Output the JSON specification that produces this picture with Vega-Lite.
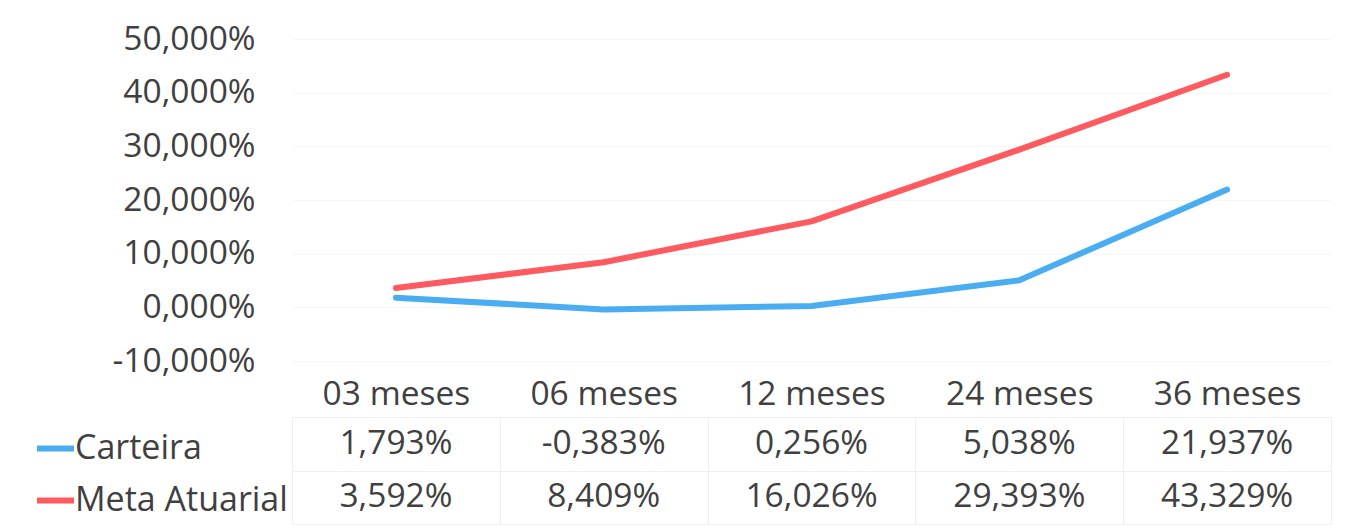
{
  "$schema": "https://vega.github.io/schema/vega-lite/v6.json",
  "background": "white",
  "padding": {"left": 24, "top": 22, "right": 10, "bottom": 0},
  "config": {
    "locale": {"number": {"decimal": ",", "thousands": ".", "grouping": [3], "currency": ["R$ ", ""], "minus": "-"}},
    "view": {"stroke": null},
    "font": "Open Sans",
    "axis": {"labelFont": "Open Sans", "labelFontSize": 33.5, "labelColor": "#404040"}
  },
  "datasets": {
    "d": [
      {"periodo": "03 meses", "serie": "Carteira", "valor": 0.01793},
      {"periodo": "06 meses", "serie": "Carteira", "valor": -0.00383},
      {"periodo": "12 meses", "serie": "Carteira", "valor": 0.00256},
      {"periodo": "24 meses", "serie": "Carteira", "valor": 0.05038},
      {"periodo": "36 meses", "serie": "Carteira", "valor": 0.21937},
      {"periodo": "03 meses", "serie": "Meta Atuarial", "valor": 0.03592},
      {"periodo": "06 meses", "serie": "Meta Atuarial", "valor": 0.08409},
      {"periodo": "12 meses", "serie": "Meta Atuarial", "valor": 0.16026},
      {"periodo": "24 meses", "serie": "Meta Atuarial", "valor": 0.29393},
      {"periodo": "36 meses", "serie": "Meta Atuarial", "valor": 0.43329}
    ]
  },
  "spacing": 6,
  "resolve": {"legend": {"color": "independent", "stroke": "independent"}},
  "vconcat": [
    {
      "width": 1039,
      "height": 322,
      "data": {"name": "d"},
      "mark": {"type": "line", "strokeWidth": 6, "strokeCap": "round", "strokeJoin": "round"},
      "encoding": {
        "x": {"field": "periodo", "type": "nominal", "sort": null,
          "scale": {"type": "point", "padding": 0.5},
          "axis": {"title": null, "orient": "bottom", "ticks": false, "domain": false, "grid": false, "labelAngle": 0, "labelPadding": 33, "labelBaseline": "middle"}},
        "y": {"field": "valor", "type": "quantitative",
          "scale": {"domain": [-0.1, 0.5], "nice": false, "zero": false},
          "axis": {"title": null, "values": [-0.1, 0, 0.1, 0.2, 0.3, 0.4, 0.5], "format": ".3%", "ticks": false, "domain": false, "grid": true, "gridColor": "#f6f6f6", "labelPadding": 37}},
        "color": {"field": "serie", "type": "nominal",
          "scale": {"domain": ["Carteira", "Meta Atuarial"], "range": ["#4aadf2", "#ff5a5f"]},
          "legend": null}
      }
    },
    {
      "width": 1039,
      "height": 107,
      "data": {"name": "d"},
      "mark": {"type": "text", "fontSize": 33.5, "font": "Open Sans", "fill": "#404040", "strokeWidth": 0, "align": "center", "baseline": "middle"},
      "encoding": {
        "x": {"field": "periodo", "type": "nominal", "sort": null,
          "scale": {"type": "band", "paddingInner": 0, "paddingOuter": 0},
          "axis": {"title": null, "labels": false, "ticks": false, "domain": false, "grid": true, "gridColor": "#efefef", "tickBand": "extent"}},
        "y": {"field": "serie", "type": "nominal", "sort": ["Carteira", "Meta Atuarial"],
          "scale": {"type": "band", "paddingInner": 0, "paddingOuter": 0},
          "axis": {"title": null, "labels": false, "ticks": false, "domain": false, "grid": true, "gridColor": "#efefef", "tickBand": "extent"}},
        "text": {"field": "valor", "type": "quantitative", "format": ".3%"},
        "stroke": {"field": "serie", "type": "nominal",
          "scale": {"domain": ["Carteira", "Meta Atuarial"], "range": ["#4aadf2", "#ff5a5f"]},
          "legend": {"orient": "left", "title": null, "symbolType": "stroke", "symbolSize": 1369, "symbolStrokeWidth": 6,
            "labelFontSize": 34, "labelFont": "Open Sans", "labelColor": "#404040", "labelLimit": 0, "labelOffset": -2,
            "rowPadding": 13, "padding": 10, "offset": -6}}
      }
    }
  ]
}
